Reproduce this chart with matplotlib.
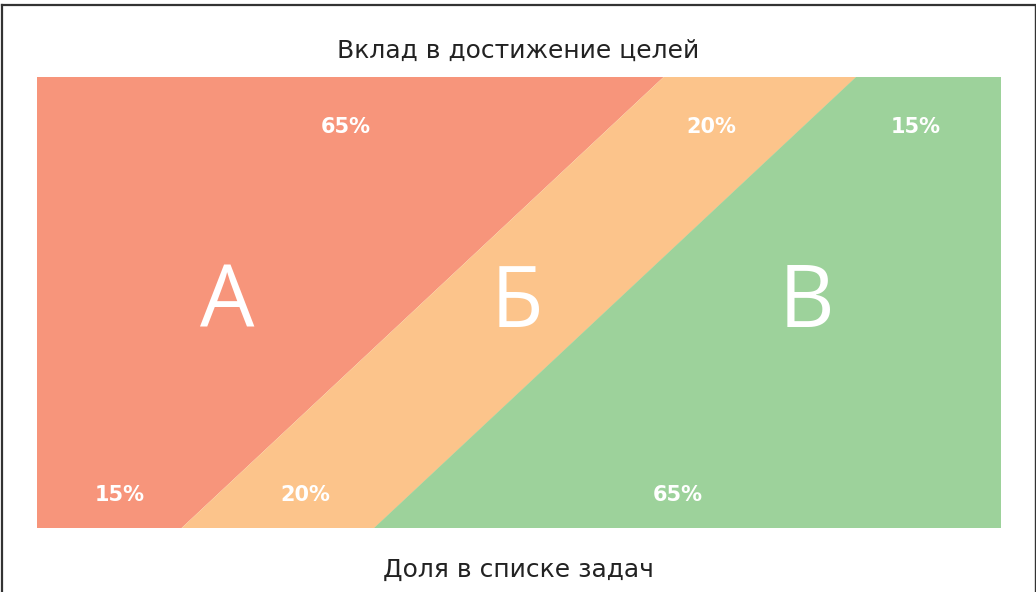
import matplotlib
matplotlib.use("Agg")
import matplotlib.pyplot as plt
from matplotlib.patches import Polygon
from matplotlib.lines import Line2D

# Data
groups = ["А", "Б", "В"]
contribution = [65, 20, 15]   # top: вклад в достижение целей
share = [15, 20, 65]          # bottom: доля в списке задач
colors = ["#F7957B", "#FCC48B", "#9DD29B"]

title_top = "Вклад в достижение целей"
title_bottom = "Доля в списке задач"

plt.rcParams['font.family'] = ['DejaVu Sans']

W, H = 1036, 592
fig = plt.figure(figsize=(W / 100, H / 100), dpi=100)
fig.patch.set_facecolor("white")

ax = fig.add_axes([37 / W, (H - 528) / H, 964 / W, 451 / H])
ax.set_xlim(0, 100)
ax.set_ylim(0, 1)
ax.axis("off")

top_edges = [0]
for v in contribution:
    top_edges.append(top_edges[-1] + v)
bot_edges = [0]
for v in share:
    bot_edges.append(bot_edges[-1] + v)

for i in range(len(groups)):
    poly = Polygon([(bot_edges[i], 0), (bot_edges[i + 1], 0),
                    (top_edges[i + 1], 1), (top_edges[i], 1)],
                   closed=True, facecolor=colors[i], edgecolor="none")
    ax.add_patch(poly)

# label positions (layout)
top_label_x = [32.0, 70.0, 91.1]
bot_label_x = [8.6, 27.8, 66.5]
letter_x = [19.7, 49.8, 79.8]

for i in range(len(groups)):
    ax.text(top_label_x[i], 0.89, f"{contribution[i]}%", color="white",
            fontsize=15, fontweight="bold", ha="center", va="center",
            family="DejaVu Sans")
    ax.text(bot_label_x[i], 0.073, f"{share[i]}%", color="white",
            fontsize=15, fontweight="bold", ha="center", va="center",
            family="DejaVu Sans")
    ax.text(letter_x[i], 0.495, groups[i], color="white", fontsize=62,
            fontweight="normal", ha="center", va="center",
            family=["Open Sans", "DejaVu Sans"])

fig.text(518 / W, 1 - 51 / H, title_top, ha="center", va="center",
         fontsize=18, color="#222222")
fig.text(518 / W, 1 - 570 / H, title_bottom, ha="center", va="center",
         fontsize=18, color="#222222")

# frame (left, top, right)
lc = "#333333"
fig.add_artist(Line2D([1.5 / W, 1.5 / W], [0, 1 - 5 / H], color=lc, lw=1.6,
                      transform=fig.transFigure))
fig.add_artist(Line2D([1.5 / W, 1034.5 / W], [1 - 5 / H, 1 - 5 / H], color=lc,
                      lw=1.6, transform=fig.transFigure))
fig.add_artist(Line2D([1034.5 / W, 1034.5 / W], [0, 1 - 5 / H], color=lc,
                      lw=1.0, transform=fig.transFigure))

fig.savefig("out.png", dpi=100)
